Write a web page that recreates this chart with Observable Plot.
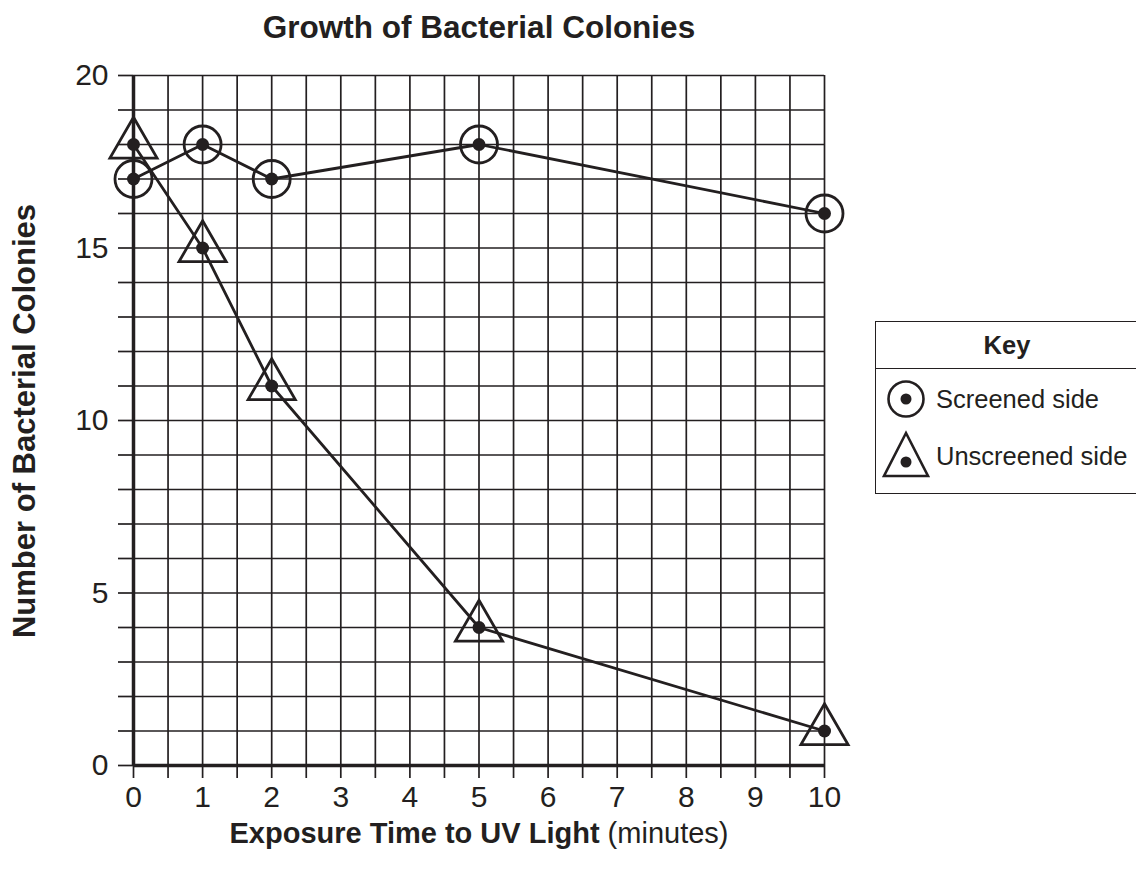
<!DOCTYPE html>
<html>
<head>
<meta charset="utf-8">
<script src="https://cdn.jsdelivr.net/npm/d3@7"></script>
<script src="https://cdn.jsdelivr.net/npm/@observablehq/plot@0.6"></script>
<style>
  body { margin: 0; background: #fff; }
  #wrap { position: relative; width: 1136px; height: 873px; overflow: hidden;
    font-family: "Liberation Sans", Arial, Helvetica, sans-serif; color: #231f20; }
  #wrap svg { position: absolute; left: 0; top: 0; }
  .abs { position: absolute; white-space: nowrap; }
  #title { left: 0; width: 958px; top: 11px; font-size: 31.5px; line-height: 32px; font-weight: bold; text-align: center; }
  #xtitle { left: 0; width: 958px; top: 818px; font-size: 29px; line-height: 30px; text-align: center; }
  #ytitle { left: 24px; top: 421px; font-size: 31px; line-height: 31px; font-weight: bold;
    transform: translate(-50%, -50%) rotate(-90deg); }
  #legend { left: 875px; top: 321px; width: 300px; height: 173px; border: 1.5px solid #231f20; box-sizing: border-box; }
  #legend .head { position: absolute; left: 0; top: 0; width: 262px; height: 46px; border-bottom: 1.5px solid #231f20;
    font-weight: bold; font-size: 25.5px; line-height: 46px; text-align: center; }
  #legend .item { position: absolute; left: 60px; font-size: 25.5px; line-height: 26px; }
  #legend svg { position: absolute; left: 0; top: 0; }
</style>
</head>
<body>
<div id="wrap"></div>
<script>
// ---- data ----
const minutes = [0, 1, 2, 5, 10];
const screened = [17, 18, 17, 18, 16];
const unscreened = [18, 15, 11, 4, 1];
const xTicks = d3.range(0, 10.001, 0.5);      // every half minute (gridlines + ticks)
const xLabels = [0, 1, 2, 3, 4, 5, 6, 7, 8, 9, 10];
const yTicks = d3.range(0, 21, 1);
const yLabels = [0, 5, 10, 15, 20];
const seriesNames = ["Screened side", "Unscreened side"];

const ink = "#231f20";
const screenedData = minutes.map((m, i) => ({x: m, y: screened[i]}));
const unscreenedData = minutes.map((m, i) => ({x: m, y: unscreened[i]}));

const chart = Plot.plot({
  width: 1136,
  height: 873,
  marginLeft: 133,
  marginRight: 312,
  marginTop: 75,
  marginBottom: 108,
  style: {fontFamily: '"Liberation Sans", Arial, Helvetica, sans-serif', fontSize: "30px", color: ink, background: "transparent"},
  x: {domain: [0, 10]},
  y: {domain: [0, 20]},
  marks: [
    Plot.gridX(xTicks, {stroke: ink, strokeOpacity: 1, strokeWidth: 1.7}),
    Plot.gridY(yTicks, {stroke: ink, strokeOpacity: 1, strokeWidth: 1.7}),
    Plot.axisX(xTicks, {tickSize: 13, tickPadding: 7, fontSize: 30, strokeWidth: 1.7,
      tickFormat: d => xLabels.includes(d) ? String(d) : "", label: null}),
    Plot.axisY(yTicks, {tickSize: 15, tickPadding: 10, fontSize: 30, strokeWidth: 1.7,
      tickFormat: d => yLabels.includes(d) ? String(d) : "", label: null}),
    Plot.ruleX([0], {stroke: ink, strokeWidth: 3.5}),
    Plot.ruleY([0], {stroke: ink, strokeWidth: 3.5}),
    Plot.line(screenedData, {x: "x", y: "y", stroke: ink, strokeWidth: 2.8}),
    Plot.line(unscreenedData, {x: "x", y: "y", stroke: ink, strokeWidth: 2.8}),
    Plot.dot(screenedData, {x: "x", y: "y", r: 18.5, stroke: ink, strokeWidth: 2.8, fill: "none"}),
    Plot.dot(unscreenedData, {x: "x", y: "y", symbol: "triangle", r: 17.5, stroke: ink, strokeWidth: 2.8, fill: "none"}),
    Plot.dot(screenedData.concat(unscreenedData), {x: "x", y: "y", r: 6.5, fill: ink, stroke: "none"})
  ]
});

const wrap = document.getElementById("wrap");
wrap.appendChild(chart);

function addDiv(id, html) {
  const d = document.createElement("div");
  d.className = "abs"; d.id = id; d.innerHTML = html;
  wrap.appendChild(d);
  return d;
}
addDiv("title", "Growth of Bacterial Colonies");
addDiv("xtitle", "<b>Exposure Time to UV Light</b> (minutes)");
addDiv("ytitle", "Number of Bacterial Colonies");

// legend (key)
const legend = addDiv("legend", "");
legend.innerHTML = `
  <div class="head">Key</div>
  <svg width="60" height="172">
    <circle cx="30" cy="77" r="17.5" fill="none" stroke="${ink}" stroke-width="2.6"/>
    <circle cx="30" cy="77" r="5.5" fill="${ink}"/>
    <path d="M30,111 L8,154 L52,154 Z" fill="none" stroke="${ink}" stroke-width="2.6" stroke-linejoin="miter"/>
    <circle cx="30" cy="140" r="5.5" fill="${ink}"/>
  </svg>
  <div class="item" style="top:64px">${seriesNames[0]}</div>
  <div class="item" style="top:121px">${seriesNames[1]}</div>`;
</script>
</body>
</html>
